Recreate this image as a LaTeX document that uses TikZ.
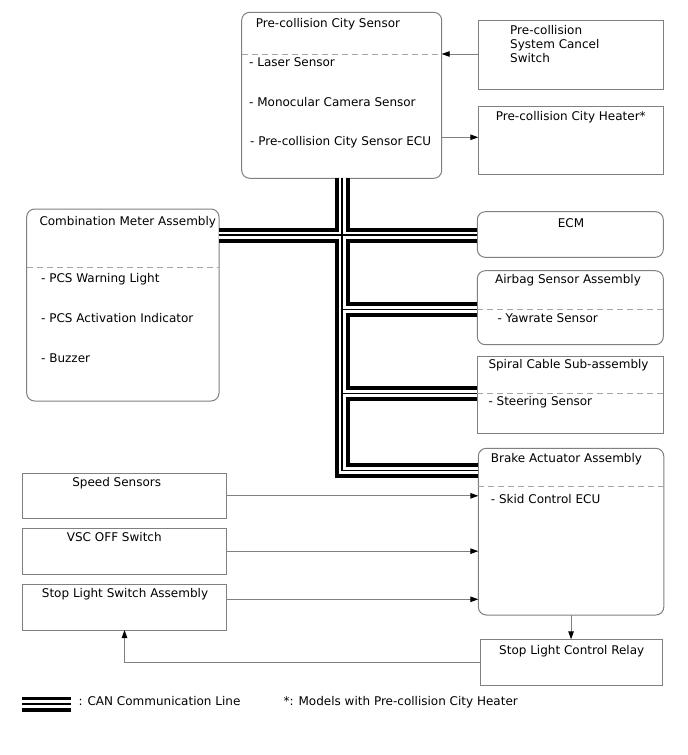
\documentclass[tikz,border=0pt]{standalone}
\usepackage{fontspec}
\setmainfont{DejaVu Sans}
\usetikzlibrary{arrows.meta}
\definecolor{bord}{RGB}{128,128,128}
\definecolor{dsh}{RGB}{165,165,165}
\begin{document}
\begin{tikzpicture}[x=1pt,y=-1pt,
  box/.style={draw=bord,line width=1pt,anchor=north west,inner sep=0pt,outer sep=0pt,rectangle},
  rbox/.style={box,rounded corners=8pt},
  lbl/.style={anchor=base west,inner sep=0pt,font=\fontsize{12}{14}\selectfont},
  clbl/.style={lbl,anchor=base},
  sepline/.style={draw=dsh,line width=0.9pt,dash pattern=on 6pt off 4pt},
  conn/.style={draw=bord,line width=0.9pt,-{Triangle[length=8pt,width=5.5pt,color=black]}},
]
\useasboundingbox (0,0) rectangle (688,755);

% boxes
\node[rbox,minimum width=200pt,minimum height=166pt] (sensor) at (241.7,12.3) {};
\node[box,minimum width=185pt,minimum height=68.6pt] (cancel) at (478.3,20.7) {};
\node[box,minimum width=185pt,minimum height=68pt] (heater) at (478.3,106) {};
\node[rbox,minimum width=192.3pt,minimum height=192pt] (combo) at (26.7,209) {};
\node[rbox,minimum width=186pt,minimum height=45.6pt] (ecm) at (477.3,211.7) {};
\node[rbox,minimum width=186pt,minimum height=74pt] (airbag) at (477.3,270.7) {};
\node[box,minimum width=186pt,minimum height=77pt] (spiral) at (477.3,356.7) {};
\node[rbox,minimum width=185.5pt,minimum height=166.7pt] (brake) at (478.3,448.3) {};
\node[box,minimum width=204.4pt,minimum height=45pt] (speed) at (22.3,473.3) {};
\node[box,minimum width=204.4pt,minimum height=45.7pt] (vsc) at (22.3,528.3) {};
\node[box,minimum width=204.4pt,minimum height=45.7pt] (slsw) at (22.3,584.3) {};
\node[box,minimum width=182.3pt,minimum height=45.7pt] (relay) at (480,639.3) {};

% dashed separators
\coordinate (d1) at (0,54);
\coordinate (d2) at (0,267.7);
\coordinate (d3) at (0,309);
\coordinate (d4) at (0,393.3);
\coordinate (d5) at (0,486);
\draw[sepline] (sensor.west |- d1) -- (sensor.east |- d1);
\draw[sepline] (combo.west |- d2) -- (combo.east |- d2);
\draw[sepline] (airbag.west |- d3) -- (airbag.east |- d3);
\draw[sepline] (spiral.west |- d4) -- (spiral.east |- d4);
\draw[sepline] (brake.west |- d5) -- (brake.east |- d5);

% CAN bus
\coordinate (bx) at (342,0);
\coordinate (ym) at (0,235);
\coordinate (ya) at (0,309.5);
\coordinate (ys) at (0,393.4);
\coordinate (yb) at (0,470.3);
\foreach \w/\c in {15/black,7/white,1.5/black}{
  \draw[line width=\w pt,\c,line join=miter]
    (sensor.south -| bx) -- (bx |- yb) -- (brake.west |- yb)
    (combo.east |- ym) -- (ecm.west |- ym)
    (bx |- ya) -- (airbag.west |- ya)
    (bx |- ys) -- (spiral.west |- ys);
}

% texts
\node[lbl] (t1) at (255.7,27.3) {Pre-collision City Sensor};
\node[lbl] (t2) at (249,66.7) {- Laser Sensor};
\node[lbl] (t3) at (249,106) {- Monocular Camera Sensor};
\node[lbl] (t4) at (250,145.7) {- Pre-collision City Sensor ECU};
\node[lbl] (t5) at (510,34.3) {Pre-collision};
\node[lbl] (t6) at (510,48.3) {System Cancel};
\node[lbl] (t7) at (510,62.3) {Switch};
\node[lbl] (t8) at (495.7,120.7) {Pre-collision City Heater*};
\node[lbl] (t9) at (39.3,225) {Combination Meter Assembly};
\node[lbl] (t10) at (41,282.7) {- PCS Warning Light};
\node[lbl] (t11) at (41,322.7) {- PCS Activation Indicator};
\node[lbl] (t12) at (41,362.3) {- Buzzer};
\node[clbl] (t13) at (571,227.3) {ECM};
\node[lbl] (t14) at (495,283.3) {Airbag Sensor Assembly};
\node[lbl] (t15) at (497.3,322.7) {- Yawrate Sensor};
\node[lbl] (t16) at (488.3,368.3) {Spiral Cable Sub-assembly};
\node[lbl] (t17) at (488.3,405) {- Steering Sensor};
\node[lbl] (t18) at (490.7,462.3) {Brake Actuator Assembly};
\node[lbl] (t19) at (490.7,503.3) {- Skid Control ECU};
\node[clbl] (t20) at (116.7,486.7) {Speed Sensors};
\node[clbl] (t21) at (114.3,541.7) {VSC OFF Switch};
\node[clbl] (t22) at (125,597.7) {Stop Light Switch Assembly};
\node[clbl] (t23) at (571.7,654) {Stop Light Control Relay};

% connectors
\coordinate (yh) at (0,137.3);
\coordinate (yst) at (0,599.3);
\draw[conn] (cancel.west |- d1) -- (sensor.east |- d1);
\draw[conn] (sensor.east |- yh) -- (heater.west |- yh);
\draw[conn] (speed.east) -- (speed.east -| brake.west);
\draw[conn] (vsc.east) -- (vsc.east -| brake.west);
\draw[conn] (slsw.east |- yst) -- (brake.west |- yst);
\draw[conn] (brake.south) -- (brake.south |- relay.north);
\draw[conn] (relay.west) -| (slsw.south);

% legend
\draw[line width=3pt] (21.7,698.3) -- (70.7,698.3);
\draw[line width=2pt] (21.7,704) -- (70.7,704);
\draw[line width=3.5pt] (21.7,710) -- (70.7,710);
\node[lbl] (l1) at (78.3,705.5) {: CAN Communication Line};
\node[lbl] (l2) at (283.3,705.5) {*: Models with Pre-collision City Heater};
\end{tikzpicture}
\end{document}
